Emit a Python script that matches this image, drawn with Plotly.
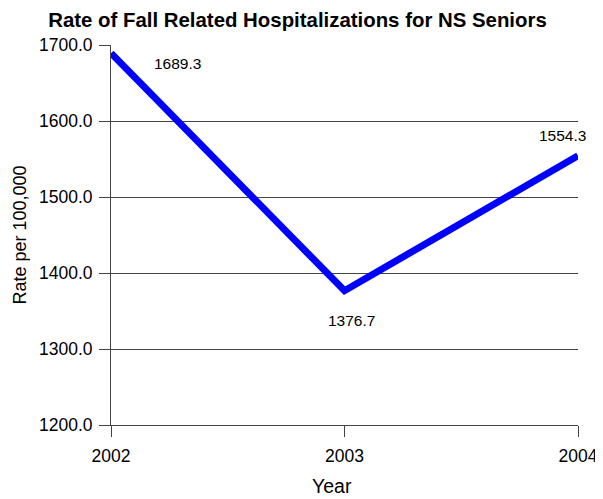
import plotly.graph_objects as go

years = [2002, 2003, 2004]
rates = [1689.3, 1376.7, 1554.3]
rate_labels = ["1689.3", "1376.7", "1554.3"]
y_ticks = [1200, 1300, 1400, 1500, 1600, 1700]

FONT = "Arial, Liberation Sans, sans-serif"
# the page body has an 8px margin, so the figure is offset by 8px
W, H = 595, 491

fig = go.Figure()
fig.add_trace(go.Scatter(x=years, y=rates, mode="lines",
                         line=dict(color="#0000FF", width=7), showlegend=False))

# label offsets in pixels (x right, y up)
offsets = [(66, -10), (7, -30), (-16, 20)]
for x, y, t, (dx, dy) in zip(years, rates, rate_labels, offsets):
    fig.add_annotation(x=x, y=y, text=t, showarrow=False, xshift=dx, yshift=dy,
                       font=dict(family=FONT, size=15.5, color="#000"))

fig.add_annotation(xref="paper", yref="paper", x=(332 - 111) / 467, y=-(486 - 425) / 380,
                   text="Year", showarrow=False, xanchor="center", yanchor="middle",
                   font=dict(family=FONT, size=19.5, color="#000"))

fig.update_layout(
    width=W, height=H,
    margin=dict(l=103, r=25, t=37, b=74, autoexpand=False),
    plot_bgcolor="white", paper_bgcolor="white",
    title=dict(text="<b>Rate of Fall Related Hospitalizations for NS Seniors</b>",
               x=(297.5 - 8) / W, xanchor="center", y=1 - (19.5 - 8) / H, yanchor="middle",
               font=dict(family=FONT, size=20.4, color="#000")),
    font=dict(family=FONT, color="#000"),
)
fig.update_xaxes(range=[2002, 2004], tickvals=years, ticktext=[str(y) for y in years],
                 showgrid=False, zeroline=False, showline=True, linecolor="#444", linewidth=1,
                 ticks="outside", ticklen=11, tickcolor="#444", automargin=False,
                 ticklabelstandoff=4,
                 tickfont=dict(family=FONT, size=17.5, color="#000"))
fig.update_yaxes(range=[1200, 1700], tickvals=y_ticks, ticktext=[f"{v:.1f}" for v in y_ticks],
                 showgrid=True, gridcolor="#444", gridwidth=1, zeroline=False,
                 showline=True, linecolor="#444", linewidth=1,
                 ticks="outside", ticklen=11, tickcolor="#444", automargin=False,
                 ticklabelstandoff=3,
                 tickfont=dict(family=FONT, size=17.5, color="#000"),
                 title=dict(text="Rate per 100,000", font=dict(family=FONT, size=18, color="#000"),
                            standoff=7))

fig.write_html("out.html")
